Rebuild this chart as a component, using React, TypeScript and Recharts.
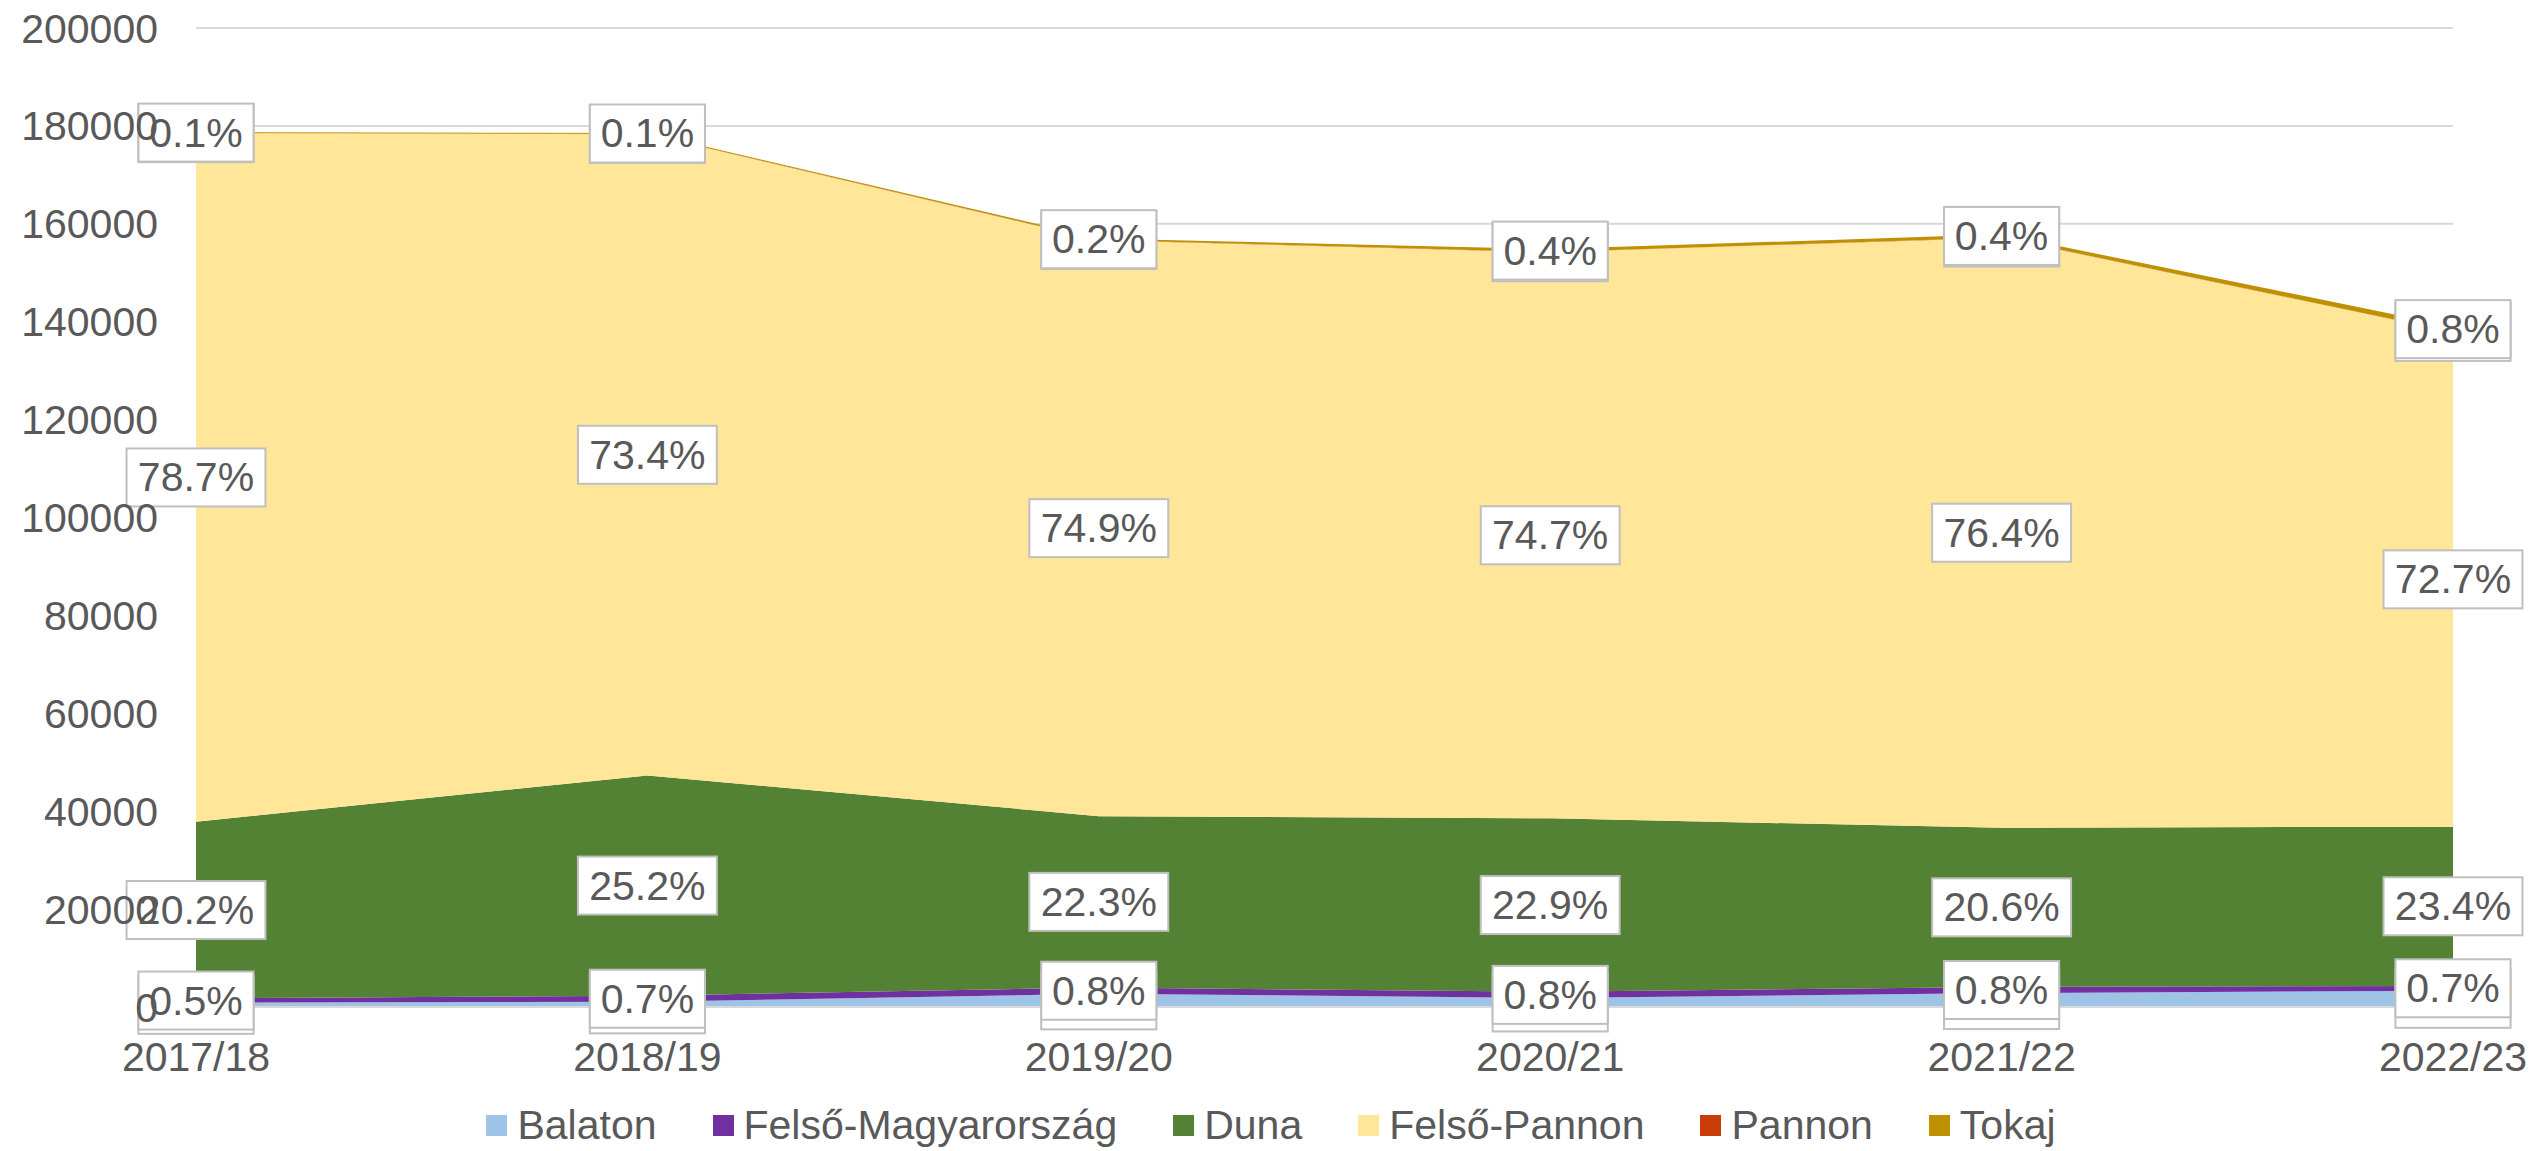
import React from "react";
import {
  ComposedChart,
  Area,
  Line,
  XAxis,
  YAxis,
  CartesianGrid,
  Legend,
  LabelList,
} from "recharts";

// --- Data ---
const seasons = ["2017/18", "2018/19", "2019/20", "2020/21", "2021/22", "2022/23"];

const balaton = [870, 1070, 2700, 1860, 2840, 3340];
const felsoMagyarorszag = [890, 1250, 1260, 1240, 1260, 970];
const duna = [36100, 44980, 35030, 35450, 32510, 32530];
const felsoPannon = [140640, 131020, 117670, 115630, 120560, 101050];
const pannon = [40, 40, 40, 40, 40, 40];
const tokaj = [180, 180, 310, 620, 630, 1110];

const yTicks = [0, 20000, 40000, 60000, 80000, 100000, 120000, 140000, 160000, 180000, 200000];

const series = [
  { key: "balaton", name: "Balaton", color: "#9DC3E6", values: balaton },
  { key: "felsoMagyarorszag", name: "Felső-Magyarország", color: "#7030A0", values: felsoMagyarorszag },
  { key: "duna", name: "Duna", color: "#548235", values: duna },
  { key: "felsoPannon", name: "Felső-Pannon", color: "#FFE699", values: felsoPannon },
  { key: "pannon", name: "Pannon", color: "#C83C0A", values: pannon },
  { key: "tokaj", name: "Tokaj", color: "#BF9000", values: tokaj },
];

const FONT = "'Liberation Sans', Arial, sans-serif";
const TEXT = "#595959";
const FS = 41;

const rows = seasons.map((s, i) => {
  const row: any = { season: s };
  series.forEach((sr) => (row[sr.key] = sr.values[i]));
  row.total = series.reduce((acc, sr) => acc + sr.values[i], 0);
  return row;
});

// middle of a series band in the stack
const midOf = (idx: number) => (d: any) => {
  let base = 0;
  for (let k = 0; k < idx; k++) base += d[series[k].key];
  return base + d[series[idx].key] / 2;
};

const PctLabel = ({ x, y, index, sKey }: any) => {
  const d = rows[index];
  const txt = ((d[sKey] / d.total) * 100).toFixed(1) + "%";
  const w = txt.length * FS * 0.58 + 20;
  const h = 58;
  return (
    <g>
      <rect x={x - w / 2} y={y - h / 2} width={w} height={h} fill="#fff" stroke="#BFBFBF" strokeWidth={2} />
      <text x={x} y={y} textAnchor="middle" dominantBaseline="central" fill={TEXT} fontSize={FS} fontFamily={FONT}>
        {txt}
      </text>
    </g>
  );
};

const LegendContent = () => (
  <div
    style={{
      display: "flex",
      justifyContent: "center",
      alignItems: "center",
      height: 52,
      fontFamily: FONT,
      fontSize: FS,
      color: TEXT,
    }}
  >
    {series.map((s) => (
      <div key={s.key} style={{ display: "flex", alignItems: "center", margin: "0 28px" }}>
        <span style={{ width: 21, height: 21, background: s.color, marginRight: 10, display: "inline-block" }} />
        <span>{s.name}</span>
      </div>
    ))}
  </div>
);

export default function App() {
  return (
    <div style={{ position: "absolute", left: 0, top: 0, background: "#fff" }}>
      <ComposedChart
        width={2542}
        height={1151}
        data={rows}
        margin={{ top: 28, right: 89, left: 0, bottom: 0 }}
      >
        <CartesianGrid vertical={false} stroke="#D9D9D9" strokeWidth={2} />
        <XAxis
          dataKey="season"
          scale="point"
          padding={{ left: 0, right: 0 }}
          axisLine={{ stroke: "#D9D9D9", strokeWidth: 2 }}
          tickLine={false}
          tickSize={0}
          tickMargin={35}
          height={92}
          interval={0}
          tick={{ fill: TEXT, fontSize: FS, fontFamily: FONT }}
        />
        <Legend
          verticalAlign="bottom"
          content={<LegendContent />}
          wrapperStyle={{ left: 0, width: 2542 }}
        />
        {series.map((s) => (
          <Area
            key={s.key}
            type="linear"
            dataKey={s.key}
            name={s.name}
            stackId="1"
            stroke="none"
            fill={s.color}
            fillOpacity={1}
            isAnimationActive={false}
            activeDot={false}
          />
        ))}
        {series.map((s, idx) => (
          <Line
            key={"lbl-" + s.key}
            dataKey={midOf(idx)}
            stroke="none"
            dot={false}
            activeDot={false}
            legendType="none"
            isAnimationActive={false}
          >
            <LabelList content={(p: any) => <PctLabel {...p} sKey={s.key} />} />
          </Line>
        ))}
        {/* y ticks sit above the label boxes, like the original */}
        <YAxis
          domain={[0, 200000]}
          ticks={yTicks}
          width={196}
          axisLine={false}
          tickLine={false}
          tickSize={0}
          tickMargin={38}
          zIndex={5000}
          tick={{ fill: TEXT, fontSize: FS, fontFamily: FONT }}
        />
      </ComposedChart>
    </div>
  );
}
